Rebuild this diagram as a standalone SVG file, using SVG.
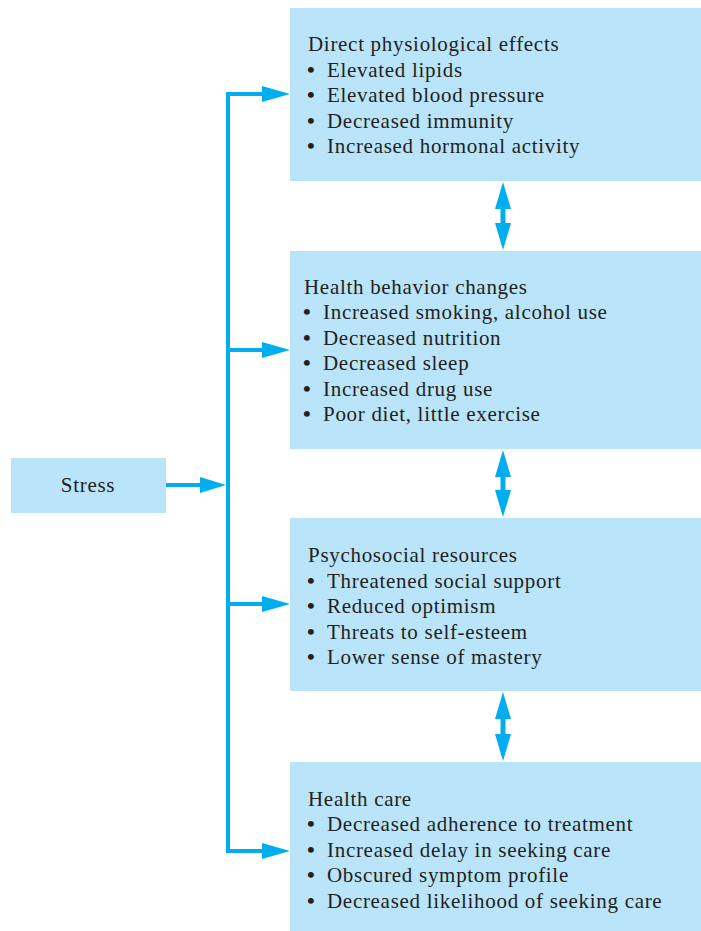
<svg xmlns="http://www.w3.org/2000/svg" width="701" height="931" viewBox="0 0 701 931">
<style>
.box{fill:#b9e4f9}
.t{font-family:"Liberation Serif","Times New Roman",serif;font-size:21px;letter-spacing:0.7px;fill:#231f20}
.b{font-weight:bold;font-size:22px}
.ln{stroke:#00aeef;stroke-width:4;fill:none}
.ah{fill:#00aeef}
</style>
<rect width="701" height="931" fill="#ffffff"/>
<g id="stress">
<rect class="box" x="11" y="458" width="155" height="55"/>
<text class="t" x="88" y="492" text-anchor="middle">Stress</text>
</g>
<g id="direct">
<rect class="box" x="290" y="8" width="411" height="173"/>
<text class="t" x="308" y="51">Direct physiological effects</text>
<text class="t" x="307" y="77"><tspan class="b">•</tspan><tspan x="327">Elevated lipids</tspan></text>
<text class="t" x="307" y="102"><tspan class="b">•</tspan><tspan x="327">Elevated blood pressure</tspan></text>
<text class="t" x="307" y="128"><tspan class="b">•</tspan><tspan x="327">Decreased immunity</tspan></text>
<text class="t" x="307" y="153"><tspan class="b">•</tspan><tspan x="327">Increased hormonal activity</tspan></text>
</g>
<g id="behavior">
<rect class="box" x="290" y="251" width="411" height="198"/>
<text class="t" x="304" y="294">Health behavior changes</text>
<text class="t" x="303" y="319"><tspan class="b">•</tspan><tspan x="323">Increased smoking, alcohol use</tspan></text>
<text class="t" x="303" y="345"><tspan class="b">•</tspan><tspan x="323">Decreased nutrition</tspan></text>
<text class="t" x="303" y="370"><tspan class="b">•</tspan><tspan x="323">Decreased sleep</tspan></text>
<text class="t" x="303" y="396"><tspan class="b">•</tspan><tspan x="323">Increased drug use</tspan></text>
<text class="t" x="303" y="421"><tspan class="b">•</tspan><tspan x="323">Poor diet, little exercise</tspan></text>
</g>
<g id="psychosocial">
<rect class="box" x="290" y="518" width="411" height="173"/>
<text class="t" x="308" y="562">Psychosocial resources</text>
<text class="t" x="307" y="588"><tspan class="b">•</tspan><tspan x="327">Threatened social support</tspan></text>
<text class="t" x="307" y="613"><tspan class="b">•</tspan><tspan x="327">Reduced optimism</tspan></text>
<text class="t" x="307" y="639"><tspan class="b">•</tspan><tspan x="327">Threats to self-esteem</tspan></text>
<text class="t" x="307" y="664"><tspan class="b">•</tspan><tspan x="327">Lower sense of mastery</tspan></text>
</g>
<g id="healthcare">
<rect class="box" x="290" y="762" width="411" height="169"/>
<text class="t" x="308" y="806">Health care</text>
<text class="t" x="307" y="831"><tspan class="b">•</tspan><tspan x="327">Decreased adherence to treatment</tspan></text>
<text class="t" x="307" y="857"><tspan class="b">•</tspan><tspan x="327">Increased delay in seeking care</tspan></text>
<text class="t" x="307" y="882"><tspan class="b">•</tspan><tspan x="327">Obscured symptom profile</tspan></text>
<text class="t" x="307" y="908"><tspan class="b">•</tspan><tspan x="327">Decreased likelihood of seeking care</tspan></text>
</g>
<g id="connectors">
<line class="ln" x1="166" y1="485" x2="204" y2="485"/>
<polygon class="ah" points="200,477 226,485 200,493"/>
<path class="ln" d="M266,94 H228 V851 H266"/>
<line class="ln" x1="228" y1="350" x2="266" y2="350"/>
<line class="ln" x1="228" y1="604" x2="266" y2="604"/>
<polygon class="ah" points="262,86 290,94 262,102"/>
<polygon class="ah" points="262,342 290,350 262,358"/>
<polygon class="ah" points="262,596 290,604 262,612"/>
<polygon class="ah" points="262,843 290,851 262,859"/>
<g>
<line x1="503" y1="205" x2="503" y2="227" stroke="#00aeef" stroke-width="5"/>
<polygon class="ah" points="503,182 511,209 495,209"/>
<polygon class="ah" points="503,250 511,223 495,223"/>
</g>
<g>
<line x1="503" y1="473" x2="503" y2="494" stroke="#00aeef" stroke-width="5"/>
<polygon class="ah" points="503,450 511,477 495,477"/>
<polygon class="ah" points="503,517 511,490 495,490"/>
</g>
<g>
<line x1="503" y1="715" x2="503" y2="738" stroke="#00aeef" stroke-width="5"/>
<polygon class="ah" points="503,692 511,719 495,719"/>
<polygon class="ah" points="503,761 511,734 495,734"/>
</g>
</g>
</svg>
